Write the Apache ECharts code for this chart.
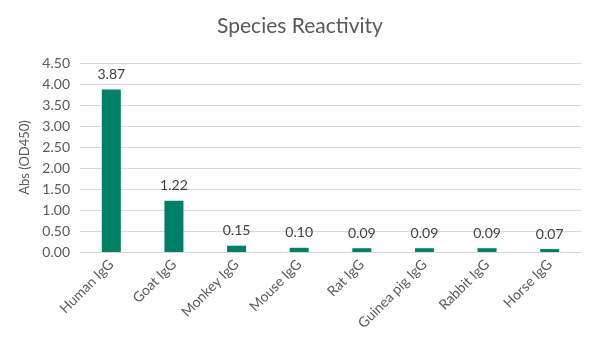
<!DOCTYPE html>
<html>
<head>
<meta charset="utf-8">
<script src="https://cdn.jsdelivr.net/npm/echarts@6/dist/echarts.min.js"></script>
<style>html,body{margin:0;padding:0;background:#fff}#c{width:600px;height:360px}</style>
</head>
<body>
<div id="c"></div>
<script>
const categories = ["Human IgG", "Goat IgG", "Monkey IgG", "Mouse IgG", "Rat IgG", "Guinea pig IgG", "Rabbit IgG", "Horse IgG"];
const values = [3.87, 1.22, 0.15, 0.10, 0.09, 0.09, 0.09, 0.07];
const titleText = "Species Reactivity";
const yAxisName = "Abs (OD450)";

const chart = echarts.init(document.getElementById('c'), null, {renderer: 'canvas'});
const font = 'Lato, "Noto Sans", sans-serif';
chart.setOption({
  animation: false,
  title: {
    text: titleText, left: 'center', top: 11,
    textStyle: {fontFamily: font, fontSize: 21, fontWeight: 'normal', color: '#595959'}
  },
  grid: {left: 80, right: 19, top: 63, bottom: 108},
  xAxis: {
    type: 'category', data: categories,
    axisLine: {lineStyle: {color: '#d9d9d9'}},
    axisTick: {show: false},
    axisLabel: {rotate: 45, color: '#595959', fontSize: 14, fontFamily: font, margin: 10, interval: 0}
  },
  yAxis: {
    type: 'value', min: 0, max: 4.5, interval: 0.5,
    name: yAxisName, nameLocation: 'middle', nameGap: 45,
    nameTextStyle: {color: '#595959', fontSize: 13, fontFamily: font},
    axisLabel: {color: '#595959', fontSize: 14, fontFamily: font, margin: 10,
      formatter: v => v.toFixed(2)},
    splitLine: {lineStyle: {color: '#d9d9d9'}},
    axisLine: {show: false}, axisTick: {show: false}
  },
  series: [{
    type: 'bar', data: values, barWidth: 19,
    itemStyle: {color: '#007F67'},
    label: {show: true, position: 'top', distance: 8, color: '#404040', fontSize: 14, fontFamily: font,
      formatter: p => p.value.toFixed(2)}
  }]
});
</script>
</body>
</html>
